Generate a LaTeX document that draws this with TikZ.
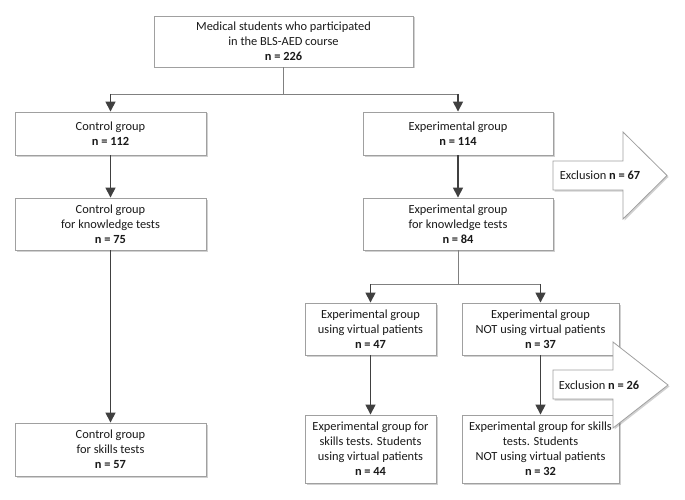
\documentclass[tikz,border=0pt]{standalone}
\usepackage{fontspec}
\setmainfont{Carlito}
\usetikzlibrary{arrows.meta,shadows}
\definecolor{boxline}{HTML}{A0A0A0}
\definecolor{arr}{HTML}{404040}
\definecolor{thinline}{HTML}{808080}
\definecolor{txt}{HTML}{1A1A1A}
\begin{document}
\begin{tikzpicture}[x=1pt,y=-1pt,
  box/.style={draw=boxline, line width=0.9pt, fill=white, align=center, text=txt,
    font=\fontsize{12.4}{15}\selectfont, inner sep=0pt,
    drop shadow={shadow xshift=1.5pt, shadow yshift=-1.5pt, fill=black, opacity=0.18}},
  flow/.style={draw=arr, line width=1.5pt, -{Triangle[width=10pt,length=10pt]}},
  split/.style={draw=thinline, line width=0.8pt},
  excl/.style={draw=boxline, line width=0.8pt, fill=white,
    drop shadow={shadow xshift=1.5pt, shadow yshift=-1.5pt, fill=black, opacity=0.18}},
  lbl/.style={text=txt, font=\fontsize{12.4}{15}\selectfont, inner sep=0pt}]
\useasboundingbox (0,0) rectangle (685,500);
\fill[white] (0,0) rectangle (685,500);

\node[box, minimum width=259pt, minimum height=51pt] (top) at (283.5,41.5)
  {Medical students who participated\\in the BLS-AED course\\\textbf{n = 226}};
\node[box, minimum width=191pt, minimum height=43pt] (ctrl1) at (110.5,133.5)
  {Control group\\\textbf{n = 112}};
\node[box, minimum width=190pt, minimum height=43pt] (exp1) at (458,133.5)
  {Experimental group\\\textbf{n = 114}};
\node[box, minimum width=191pt, minimum height=52pt] (ctrl2) at (110.5,224)
  {Control group\\for knowledge tests\\\textbf{n = 75}};
\node[box, minimum width=190pt, minimum height=52pt] (exp2) at (458,224)
  {Experimental group\\for knowledge tests\\\textbf{n = 84}};
\node[box, minimum width=131pt, minimum height=52pt] (vp) at (370.5,329)
  {Experimental group\\using virtual patients\\\textbf{n = 47}};
\node[box, minimum width=157pt, minimum height=52pt] (nvp) at (540.5,329)
  {Experimental group\\NOT using virtual patients\\\textbf{n = 37}};
\node[box, minimum width=191pt, minimum height=53pt] (ctrl3) at (110.5,449.5)
  {Control group\\for skills tests\\\textbf{n = 57}};
\node[box, minimum width=131pt, minimum height=68pt] (vp2) at (370.5,449)
  {Experimental group for\\skills tests. Students\\using virtual patients\\\textbf{n = 44}};
\node[box, minimum width=157pt, minimum height=68pt] (nvp2) at (540.5,449)
  {Experimental group for skills\\tests. Students\\NOT using virtual patients\\\textbf{n = 32}};

% exclusion arrows
\draw[excl] (553,161) -- (623,161) -- (623,132) -- (667,175.5) -- (623,219) -- (623,190) -- (553,190) -- cycle;
\node[lbl] (ex1) at (600,175.5) {Exclusion \textbf{n = 67}};
\draw[excl] (553,370) -- (613,370) -- (613,342) -- (668,385) -- (613,428) -- (613,399) -- (553,399) -- cycle;
\node[lbl] (ex2) at (599,385) {Exclusion \textbf{n = 26}};

% connectors
\coordinate (s1) at (283.5,94);
\coordinate (sL) at (110.5,94);
\coordinate (sR) at (458,94);
\draw[split] (top.south) -- (s1);
\draw[split] (sL) -- (sR);
\draw[flow] (sL) -- (ctrl1.north);
\draw[flow] (sR) -- (exp1.north);
\draw[flow] (ctrl1) -- (ctrl2);
\draw[flow] (ctrl2) -- (ctrl3);
\draw[flow] (exp1) -- (exp2);

\coordinate (s2) at (458,284);
\coordinate (s2L) at (370.5,284);
\coordinate (s2R) at (540.5,284);
\draw[split] (exp2.south) -- (s2);
\draw[split] (s2L) -- (s2R);
\draw[flow] (s2L) -- (vp.north);
\draw[flow] (s2R) -- (nvp.north);
\draw[flow] (vp) -- (vp2);
\draw[flow] (nvp) -- (nvp2);
\end{tikzpicture}
\end{document}
